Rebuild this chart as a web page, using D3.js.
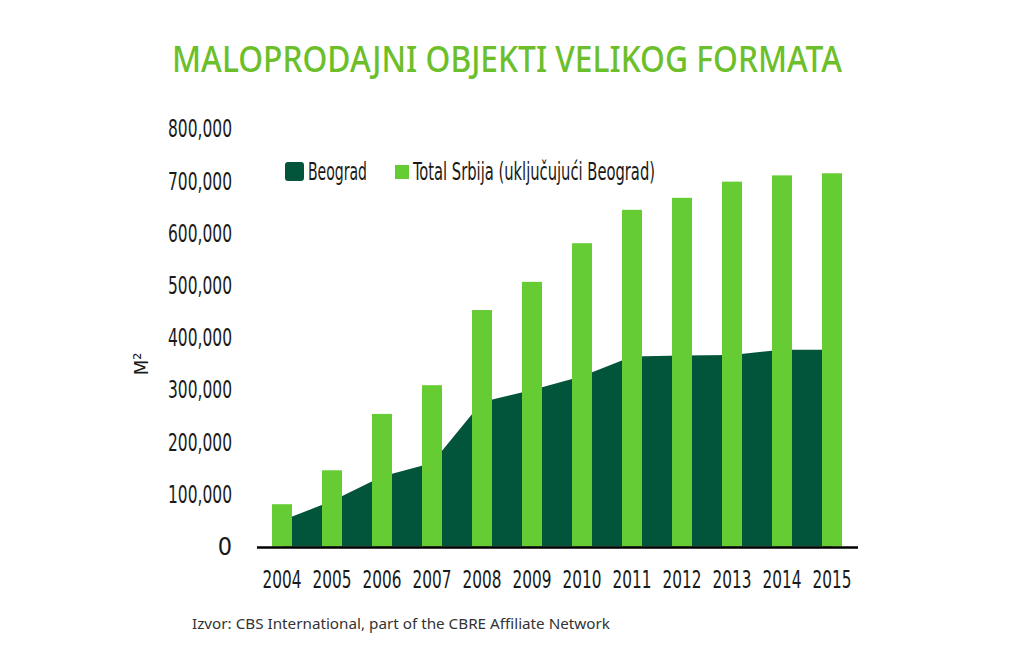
<!DOCTYPE html>
<html>
<head>
<meta charset="utf-8">
<script src="https://cdn.jsdelivr.net/npm/d3@7"></script>
<style>
  body { margin: 0; background: #fff; }
  svg { display: block; }
  .narrow { font-family: "Liberation Sans Narrow", "DejaVu Sans Condensed", "Liberation Sans", sans-serif; font-stretch: condensed; }
</style>
</head>
<body>
<svg width="1030" height="671"></svg>
<script>
// data
var years = ["2004", "2005", "2006", "2007", "2008", "2009", "2010", "2011", "2012", "2013", "2014", "2015"];
var totalSrbija = [81000, 146000, 254000, 309000, 453000, 507000, 581000, 645000, 668000, 699000, 711000, 715000];
var beograd = [50000, 87000, 134000, 160000, 277000, 300000, 326000, 364000, 366000, 367000, 377000, 377000];
var yTicks = [0, 100000, 200000, 300000, 400000, 500000, 600000, 700000, 800000];
var legendLabels = ["Beograd", "Total Srbija (uključujući Beograd)"];

var svg = d3.select("svg"),
    lightGreen = "#66cc33",
    darkGreen = "#02553a";

var x = d3.scaleBand()
    .domain(years)
    .range([257, 857])
    .paddingInner(0.6)
    .paddingOuter(0.3);

var y = d3.scaleLinear()
    .domain([0, 800000])
    .range([546.5, 128.9]);

// squeeze a text horizontally to a given width, keeping its anchor point
function squeeze(sel, width, dx) {
    sel.each(function() {
        var t = d3.select(this),
            w = this.getComputedTextLength(),
            s = w > width ? width / w : 1;
        t.attr("x", 0).attr("transform", "translate(" + dx + ",0) scale(" + s + ",1)");
    });
}

// title
svg.append("text")
    .attr("x", 172)
    .attr("y", 72)
    .attr("textLength", 670)
    .attr("lengthAdjust", "spacingAndGlyphs")
    .style("font-family", "'Noto Sans', 'Open Sans', sans-serif")
    .style("font-size", "36px")
    .style("font-weight", "500")
    .style("fill", "#6cbf2a")
    .text("MALOPRODAJNI OBJEKTI VELIKOG FORMATA");

// Beograd area, behind the bars
var area = d3.area()
    .x(function(d, i) { return x(years[i]) + x.bandwidth() / 2; })
    .y0(y(0))
    .y1(function(d) { return y(d); });

svg.append("path")
    .datum(beograd)
    .attr("d", area)
    .style("fill", darkGreen);

// total bars
svg.append("g")
    .selectAll("rect")
    .data(totalSrbija)
    .enter().append("rect")
    .attr("x", function(d, i) { return x(years[i]); })
    .attr("y", function(d) { return y(d); })
    .attr("width", x.bandwidth())
    .attr("height", function(d) { return y(0) - y(d); })
    .style("fill", lightGreen);

// baseline
svg.append("line")
    .attr("x1", 257)
    .attr("x2", 858)
    .attr("y1", y(0) + 1)
    .attr("y2", y(0) + 1)
    .style("stroke", "#000")
    .style("stroke-width", 2.5);

// y axis
var yAxis = svg.append("g")
    .attr("class", "narrow")
    .attr("transform", "translate(257,0)")
    .call(d3.axisLeft(y).tickValues(yTicks).tickSize(0).tickPadding(25).tickFormat(d3.format(",")));
yAxis.select(".domain").remove();
yAxis.attr("font-family", null).attr("font-size", null);
yAxis.selectAll("text")
    .style("font-size", "25px")
    .style("fill", "#1a1a1a")
    .call(squeeze, 64, -25);

// x axis labels
var xAxis = svg.append("g")
    .attr("class", "narrow")
    .attr("transform", "translate(0," + y(0) + ")")
    .call(d3.axisBottom(x).tickSize(0).tickPadding(24));
xAxis.select(".domain").remove();
xAxis.attr("font-family", null).attr("font-size", null);
xAxis.selectAll("text")
    .style("font-size", "25px")
    .style("fill", "#1a1a1a")
    .call(squeeze, 39, 0);

// axis title
svg.append("text")
    .attr("class", "narrow")
    .attr("transform", "translate(148,364) rotate(-90)")
    .attr("text-anchor", "middle")
    .style("font-size", "20px")
    .style("fill", "#1a1a1a")
    .text("M²");

// legend
var legend = svg.append("g").attr("class", "narrow");
legend.append("rect")
    .attr("x", 285).attr("y", 162)
    .attr("width", 19).attr("height", 19)
    .attr("rx", 3)
    .style("fill", darkGreen);
legend.append("text")
    .attr("x", 308).attr("y", 180)
    .attr("textLength", 59)
    .attr("lengthAdjust", "spacingAndGlyphs")
    .style("font-size", "24px")
    .style("fill", "#1a1a1a")
    .text(legendLabels[0]);
legend.append("rect")
    .attr("x", 395).attr("y", 165)
    .attr("width", 14).attr("height", 14)
    .style("fill", lightGreen);
legend.append("text")
    .attr("x", 413).attr("y", 180)
    .attr("textLength", 242)
    .attr("lengthAdjust", "spacingAndGlyphs")
    .style("font-size", "24px")
    .style("fill", "#1a1a1a")
    .text(legendLabels[1]);

// source
svg.append("text")
    .attr("x", 192)
    .attr("y", 629)
    .attr("textLength", 418)
    .attr("lengthAdjust", "spacingAndGlyphs")
    .style("font-family", "'Noto Sans', 'Open Sans', sans-serif")
    .style("font-size", "15px")
    .style("fill", "#333")
    .text("Izvor: CBS International, part of the CBRE Affiliate Network");
</script>
</body>
</html>
